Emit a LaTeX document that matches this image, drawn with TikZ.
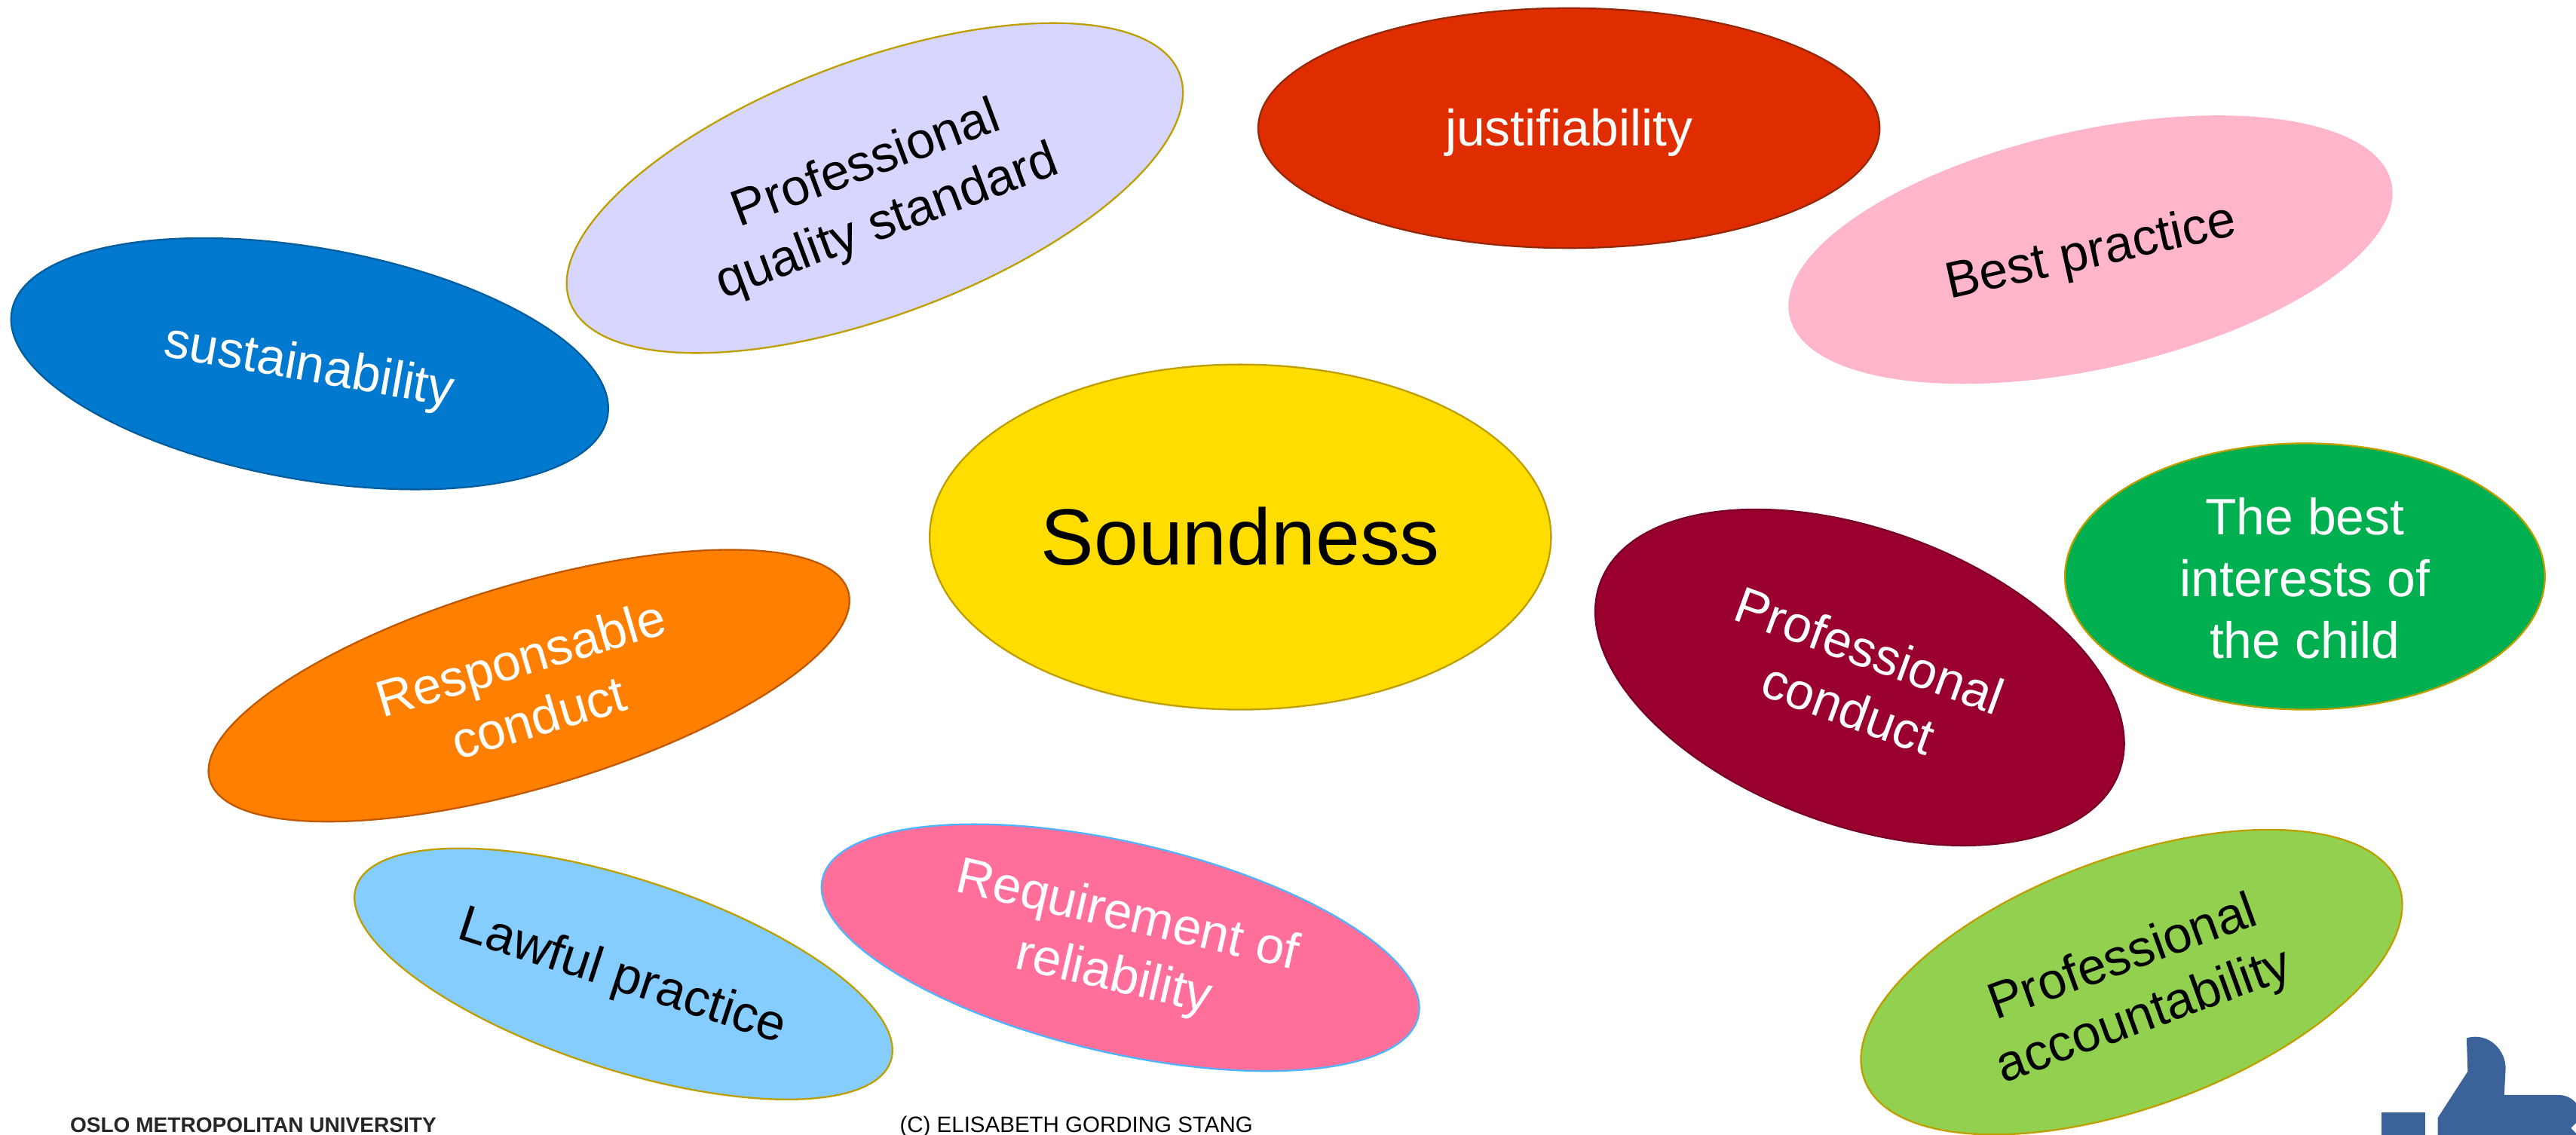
\documentclass[tikz,border=0pt]{standalone}
\usepackage{fontspec}
\setmainfont{Liberation Sans}
\usetikzlibrary{shapes.geometric}
\definecolor{goldline}{HTML}{BF9F00}
\definecolor{thumbblue}{HTML}{3B639A}
\newcommand{\linestrut}{\rule[-.212em]{0pt}{1.117em}}
\newcommand{\lowline}{\rule{0pt}{1em}}

\tikzset{
	blob/.style={ellipse, draw=goldline, line width=0.3pt, inner sep=0pt, outer sep=0pt, align=center, font=\fontsize{8.85}{10.7}\selectfont, execute at begin node=\linestrut, execute at end node=\linestrut},
	darkblob/.style={blob, text=white}
}

\begin{document}
\begin{tikzpicture}[x=0.01cm, y=-0.01cm]
		\useasboundingbox (0, 0) rectangle (1568, 691);
		\node[blob, fill={rgb,255:red,255;green,221;blue,0}, minimum width=3.78cm, minimum height=2.10cm, font=\fontsize{13.8}{16}\selectfont] (soundness) at (755, 327) {Soundness};
		\node[darkblob, fill={rgb,255:red,224;green,45;blue,0}, draw={rgb,255:red,150;green,40;blue,10}, minimum width=3.78cm, minimum height=1.46cm] (justifiability) at (955, 78) {justifiability};
		\node[blob, fill={rgb,255:red,255;green,182;blue,203}, draw={rgb,255:red,255;green,182;blue,203}, minimum width=3.74cm, minimum height=1.44cm, rotate=12.5] (bestpractice) at (1272.5, 152) {Best practice};
		\node[blob, fill={rgb,255:red,214;green,214;blue,255}, minimum width=3.96cm, minimum height=1.55cm, rotate=20.5] (quality) at (532.5, 114.5) {\lowline Professional\\quality standard};
		\node[darkblob, fill={rgb,255:red,0;green,121;blue,207}, draw={rgb,255:red,0;green,93;blue,158}, minimum width=3.68cm, minimum height=1.41cm, rotate=-10] (sustainability) at (188.5, 221.5) {sustainability};
		\node[darkblob, fill={rgb,255:red,255;green,128;blue,0}, draw={rgb,255:red,192;green,88;blue,0}, minimum width=4.05cm, minimum height=1.24cm, rotate=16.5] (responsable) at (322, 417.5) {\lowline Responsable\\conduct};
		\node[blob, fill={rgb,255:red,133;green,204;blue,255}, minimum width=3.42cm, minimum height=1.16cm, rotate=-18] (lawful) at (379.5, 593) {Lawful practice};
		\node[darkblob, fill={rgb,255:red,255;green,111;blue,153}, draw={rgb,255:red,79;green,180;blue,255}, minimum width=3.72cm, minimum height=1.28cm, rotate=-13] (reliability) at (682, 577) {Requirement of\\reliability};
		\node[darkblob, fill={rgb,255:red,153;green,0;blue,48}, draw={rgb,255:red,120;green,0;blue,38}, minimum width=3.36cm, minimum height=1.80cm, rotate=-20] (conduct) at (1132, 412.5) {\lowline Professional\\conduct};
		\node[darkblob, fill={rgb,255:red,0;green,176;blue,80}, minimum width=2.92cm, minimum height=1.62cm] (child) at (1403, 351) {\lowline The best\\interests of\\the child};
		\node[blob, fill={rgb,255:red,146;green,208;blue,80}, minimum width=3.46cm, minimum height=1.52cm, rotate=20] (accountability) at (1297.5, 598) {\lowline Professional\\accountability};

		\node[font=\bfseries\fontsize{3.66}{4}\selectfont, anchor=west, inner sep=0pt, text=black!85] (oslo) at (42, 685) {OSLO METROPOLITAN UNIVERSITY};
		\node[font=\fontsize{3.85}{4}\selectfont, anchor=west, inner sep=0pt] (copyright) at (547, 686) {(C) ELISABETH GORDING STANG};

		\fill[thumbblue] (1449.5, 677.2) rectangle (1476.1, 691);
		\fill[thumbblue] (1483.8, 691) -- (1483.8, 680.7) -- (1502.1, 652.4) -- (1501.4, 632.1)
			.. controls (1515, 628) and (1526, 640) .. (1525.1, 651.7)
			-- (1524.3, 666.7) -- (1557.2, 666.7) .. controls (1562, 666.7) and (1566, 669) .. (1568, 671.6)
			-- (1568, 683.8) -- (1564.9, 686.9) -- (1568, 690) -- (1568, 691) -- cycle;
	\end{tikzpicture}
\end{document}
